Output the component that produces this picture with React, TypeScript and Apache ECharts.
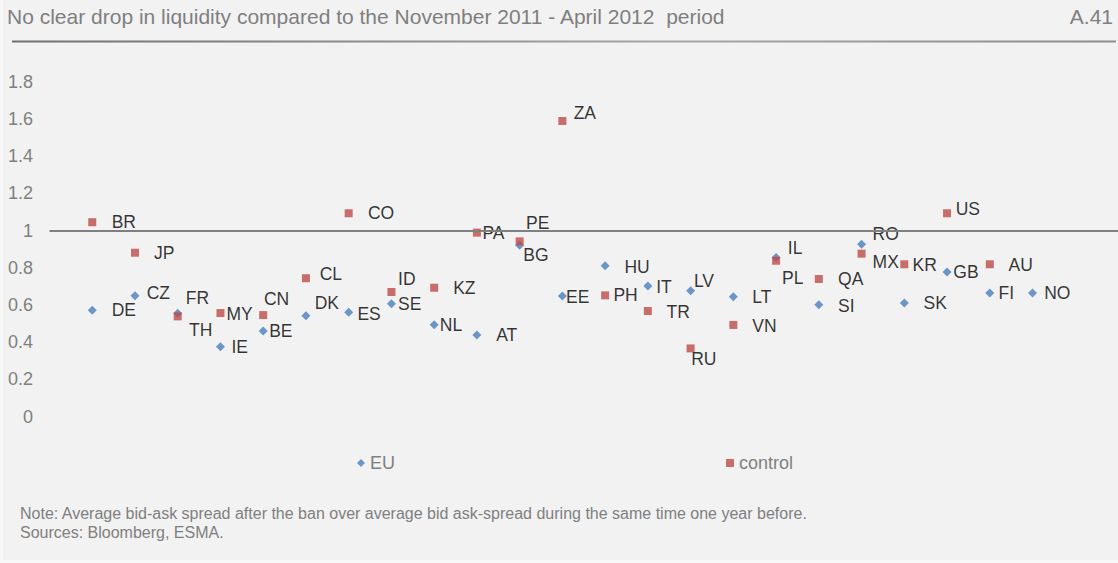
import React, { useEffect, useRef } from "react";
import * as echarts from "echarts";

// ---- Data ----
const titleText = "No clear drop in liquidity compared to the November 2011 - April 2012  period";
const chartCode = "A.41";
const noteText = "Note: Average bid-ask spread after the ban over average bid ask-spread during the same time one year before.";
const sourceText = "Sources: Bloomberg, ESMA.";

const euCountries = ["DE", "CZ", "FR", "IE", "BE", "DK", "ES", "SE", "NL", "AT", "BG", "EE", "HU", "IT", "LV", "LT", "IL", "SI", "RO", "SK", "GB", "FI", "NO"];
const euSlots = [1, 2, 3, 4, 5, 6, 7, 8, 9, 10, 11, 12, 13, 14, 15, 16, 17, 18, 19, 20, 21, 22, 23];
const euValues = [0.572, 0.65, 0.556, 0.376, 0.46, 0.543, 0.561, 0.607, 0.494, 0.439, 0.921, 0.649, 0.811, 0.702, 0.677, 0.645, 0.856, 0.602, 0.926, 0.611, 0.778, 0.665, 0.665];

const controlCountries = ["BR", "JP", "TH", "MY", "CN", "CL", "CO", "ID", "KZ", "PA", "PE", "ZA", "PH", "TR", "RU", "VN", "PL", "QA", "MX", "KR", "US", "AU"];
const controlSlots = [1, 2, 3, 4, 5, 6, 7, 8, 9, 10, 11, 12, 13, 14, 15, 16, 17, 18, 19, 20, 21, 22];
const controlValues = [1.045, 0.881, 0.539, 0.557, 0.546, 0.744, 1.093, 0.67, 0.693, 0.989, 0.942, 1.589, 0.652, 0.568, 0.367, 0.493, 0.838, 0.74, 0.876, 0.819, 1.093, 0.819];

const yTicks = [0, 0.2, 0.4, 0.6, 0.8, 1, 1.2, 1.4, 1.6, 1.8];
const referenceLevel = 1;

// ---- Layout (label offsets from marker centre, px) ----
const labelOffsets: Record<string, [number, number]> = {
  DE: [19.4, 0], CZ: [11.7, -2.4], FR: [8, -15], IE: [11, 0.6], BE: [6, 0], DK: [8.7, -13], ES: [8.7, 1.7],
  SE: [6.6, 0.6], NL: [5.7, 0.6], AT: [19.3, 0.3], BG: [3.7, 9.7], EE: [3.7, 0.7], HU: [19.3, 1], IT: [8.3, 0.7],
  LV: [3.3, -10], LT: [19, 0.6], IL: [11.7, -9], SI: [19.3, 1], RO: [11, -10], SK: [19.3, 0.3], GB: [6.3, 0.3],
  FI: [8.7, 0.3], NO: [11.7, 0.3],
  BR: [19.4, 0], JP: [19, 0], TH: [11.3, 13.7], MY: [6, 1], CN: [0.7, -15.7], CL: [13.7, -4.3], CO: [19.3, 0],
  ID: [6.6, -12.7], KZ: [19, 0], PA: [5.6, 0.6], PE: [6.4, -18.6], ZA: [11.3, -7.7], PH: [8.3, 0], TR: [18.7, 0.7],
  RU: [0.6, 11], VN: [19, 0.7], PL: [6, 17.6], QA: [19.3, 0.3], MX: [11, 8.6], KR: [8.3, 0.4], US: [8.6, -4.6],
  AU: [18.7, 1],
};

const FONT = "'Liberation Sans', Arial, sans-serif";
const GRAY = "#7f7f7f";
const BLUE = "#4A7EBB";
const RED = "#BE4B48";
const EU_SIZE = 9;
const CTRL_SIZE = 8;

function buildData(names: string[], slots: number[], values: number[], size: number) {
  return names.map((n, i) => {
    const off = labelOffsets[n] || [8, 0];
    return {
      name: n,
      value: [slots[i], values[i]],
      label: { position: [off[0] + size / 2, off[1] + size / 2] },
    };
  });
}

export default function App() {
  const ref = useRef<HTMLDivElement>(null);

  useEffect(() => {
    if (!ref.current) return;
    const chart = echarts.init(ref.current, undefined, { renderer: "svg" });
    const labelCommon = {
      show: true,
      formatter: (p: any) => p.name,
      color: "#000000",
      fontSize: 17.5,
      fontFamily: FONT,
      align: "left",
      verticalAlign: "middle",
    };
    chart.setOption({
      animation: false,
      backgroundColor: "#f8f8f8",
      grid: { left: 49.5, top: 81.7, width: 1070, height: 335, containLabel: false },
      xAxis: { type: "value", min: 0, max: 25, show: false },
      yAxis: {
        type: "value",
        min: yTicks[0],
        max: yTicks[yTicks.length - 1],
        interval: 0.2,
        axisLine: { show: false },
        axisTick: { show: false },
        splitLine: { show: false },
        axisLabel: {
          margin: 16.5,
          color: GRAY,
          fontSize: 18,
          fontFamily: FONT,
          formatter: (v: number) => String(+v.toFixed(1)),
        },
      },
      legend: {
        left: 352,
        top: 449,
        itemWidth: 8,
        itemHeight: 8,
        itemGap: 331,
        textStyle: { color: GRAY, fontSize: 18, fontFamily: FONT, lineHeight: 18 },
        data: [
          { name: "EU", icon: "diamond" },
          { name: "control", icon: "rect" },
        ],
      },
      graphic: [
        { type: "rect", z: -10, shape: { x: 3, y: 0, width: 1115, height: 560 }, style: { fill: "#f2f2f2" }, silent: true },
        {
          type: "text", x: 7, y: 16.5,
          style: { text: titleText, fill: GRAY, font: `21px ${FONT}`, textAlign: "left", textVerticalAlign: "middle" },
        },
        {
          type: "text", x: 1113, y: 16.5,
          style: { text: chartCode, fill: GRAY, font: `21px ${FONT}`, textAlign: "right", textVerticalAlign: "middle" },
        },
        {
          type: "rect", shape: { x: 12, y: 40.5, width: 1104, height: 2 },
          style: {
            fill: new echarts.graphic.LinearGradient(0, 0, 1, 0, [
              { offset: 0, color: "#6f6f6f" },
              { offset: 0.6, color: "#a6a6a6" },
              { offset: 1, color: "#8c8c8c" },
            ]),
          },
          silent: true,
        },
        {
          type: "text", x: 20, y: 513,
          style: { text: noteText, fill: GRAY, font: `16px ${FONT}`, textAlign: "left", textVerticalAlign: "middle" },
        },
        {
          type: "text", x: 20, y: 532.5,
          style: { text: sourceText, fill: GRAY, font: `16px ${FONT}`, textAlign: "left", textVerticalAlign: "middle" },
        },
      ],
      series: [
        {
          name: "EU",
          type: "scatter",
          symbol: "diamond",
          symbolSize: EU_SIZE,
          itemStyle: { color: BLUE },
          label: labelCommon,
          data: buildData(euCountries, euSlots, euValues, EU_SIZE),
          markLine: {
            silent: true,
            symbol: "none",
            label: { show: false },
            lineStyle: { color: "#808080", width: 2, type: "solid" },
            data: [{ yAxis: referenceLevel }],
          },
        },
        {
          name: "control",
          type: "scatter",
          symbol: "rect",
          symbolSize: CTRL_SIZE,
          itemStyle: { color: RED },
          label: labelCommon,
          data: buildData(controlCountries, controlSlots, controlValues, CTRL_SIZE),
        },
      ],
    });
    return () => chart.dispose();
  }, []);

  return (
    <div
      ref={ref}
      style={{ position: "fixed", left: 0, top: 0, width: 1118, height: 563 }}
    />
  );
}
